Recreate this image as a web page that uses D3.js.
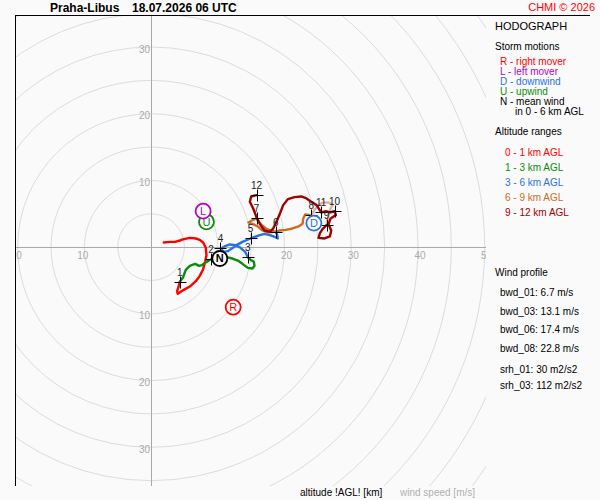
<!DOCTYPE html>
<html>
<head>
<meta charset="utf-8">
<title>Hodograph</title>
<script src="https://cdn.jsdelivr.net/npm/d3@7"></script>
<style>
  html, body { margin: 0; padding: 0; background: #fafafa; }
  svg { display: block; font-family: "Liberation Sans", Arial, sans-serif; }
</style>
</head>
<body>
<div id="chart"></div>
<script>
// Hodograph trace, [u, v] in m/s, one array per altitude range
var range0to1 = [[1.9, 0.7], [2.8, 0.8], [3.6, 0.8], [4.3, 1.0], [4.9, 1.2], [5.8, 1.4], [6.7, 1.3],
  [7.3, 1.1], [7.8, 0.7], [8.2, -0.1], [8.3, -1.2], [8.1, -2.2], [7.8, -3.3], [7.3, -4.3],
  [6.7, -5.1], [5.8, -5.9], [4.9, -6.4], [4.0, -7.0], [3.9, -6.6], [4.1, -6.0], [4.3, -5.2]];
var range1to3 = [[4.3, -5.2], [4.8, -4.5], [5.2, -3.4], [5.8, -2.8], [6.6, -2.5], [7.2, -2.8],
  [7.6, -2.7], [8.3, -2.2], [9.0, -1.8], [9.8, -1.5], [10.6, -1.3], [11.3, -1.5], [12.2, -1.7],
  [13.0, -2.0], [13.7, -2.5], [14.5, -3.1], [15.2, -3.2], [15.5, -2.8], [15.4, -2.2], [14.9, -1.9], [14.5, -1.5]];
var range3to6 = [[14.5, -1.5], [14.1, -0.7], [13.4, -0.1], [12.7, 0.3], [11.8, 0.4], [11.0, 0.1],
  [10.4, -0.2], [10.9, -0.7], [11.5, -0.6], [12.1, -0.2], [12.8, 0.3], [13.7, 0.8], [14.9, 1.3],
  [15.7, 1.6], [16.3, 1.8], [17.0, 2.0], [17.8, 1.8], [18.4, 1.6], [19.0, 1.3], [18.9, 1.8], [18.7, 2.3]];
var range6to9 = [[18.7, 2.3], [17.9, 2.5], [17.2, 2.8], [16.6, 3.3], [16.1, 3.8], [15.8, 4.3],
  [15.1, 4.0], [14.6, 3.7], [15.2, 3.5], [16.0, 3.1], [16.7, 2.5], [17.5, 2.2], [18.4, 2.3],
  [19.3, 2.5], [20.2, 2.6], [21.2, 2.8], [22.1, 3.1], [22.7, 3.5], [22.8, 4.3], [23.1, 4.9], [24.0, 4.8]];
var range8to9 = [[24.0, 4.8], [24.5, 5.6], [25.2, 6.4], [25.9, 6.7], [26.6, 6.7], [27.2, 6.4],
  [26.8, 5.5], [26.5, 4.5], [26.3, 3.3]];
var range9to12 = [[26.3, 3.3], [25.7, 2.7], [25.3, 2.1], [25.1, 1.4], [26.0, 1.3], [26.8, 1.6],
  [27.0, 2.5], [26.6, 3.4], [26.9, 4.3], [27.7, 4.8], [27.5, 5.4], [26.8, 5.2], [26.2, 5.4],
  [25.5, 5.2], [24.8, 6.3], [24.0, 6.8], [23.3, 7.3], [22.5, 7.6], [21.5, 7.5], [20.5, 7.2],
  [19.8, 6.3], [19.3, 5.0], [18.8, 3.8], [18.3, 2.8], [17.8, 2.3], [17.0, 2.5], [16.3, 3.5],
  [15.8, 4.5], [15.3, 5.8], [14.8, 6.8], [15.0, 7.6], [15.8, 7.8]];

// wind at 1, 2, ... 12 km AGL
var kmMarks = [[4.3, -5.2], [9.0, -1.8], [14.5, -1.5], [10.4, -0.2], [14.9, 1.3], [18.7, 2.3],
  [15.8, 4.3], [24.0, 4.8], [26.3, 3.3], [27.5, 5.4], [25.5, 5.2], [15.8, 7.8]];

// storm motion vectors [letter, u, v]
var stormMotions = [['U', 8.3, 3.8], ['L', 7.8, 5.4], ['R', 12.3, -9.0], ['D', 24.4, 3.6], ['N', 10.3, -1.7]];

var ringSpeeds = [5, 10, 15, 20, 25, 30, 35, 40, 45, 50, 55, 60, 65];
var xTickLabels = [-20, -10, 10, 20, 30, 40, 50];
var yTickLabels = [-30, -20, -10, 10, 20, 30];

var motionLegend = [['R - right mover', 'R'], ['L - left mover', 'L'], ['D - downwind', 'D'],
  ['U - upwind', 'U'], ['N - mean wind', 'N']];
var rangeLegend = ['0 - 1 km AGL', '1 - 3 km AGL', '3 - 6 km AGL', '6 - 9 km AGL', '9 - 12 km AGL'];
var windProfile = ['bwd_01: 6.7 m/s', 'bwd_03: 13.1 m/s', 'bwd_06: 17.4 m/s', 'bwd_08: 22.8 m/s'];
var helicity = ['srh_01: 30 m2/s2', 'srh_03: 112 m2/s2'];

// Colours
var col = {
  r1: '#ff0000', r3: '#0a8c0a', r6: '#2673e0', r9: '#d2691e', r9b: '#e8aaa4', r12: '#a00000',
  R: '#ff0000', L: '#b400c8', D: '#2673e0', U: '#0a8c0a', N: '#000000'
};

var W = 600, H = 500;
var box = { left: 15, top: 15, right: 486, bottom: 486 };

var x = d3.scaleLinear().domain([-20.4, 50.2]).range([box.left, box.right]);
var y = d3.scaleLinear().domain([-35.8, 34.8]).range([box.bottom, box.top]);

var svg = d3.select('#chart').append('svg')
  .attr('width', W).attr('height', H)
  .attr('viewBox', '0 0 ' + W + ' ' + H);

svg.append('rect').attr('width', W).attr('height', H).attr('fill', '#fafafa');

svg.append('clipPath').attr('id', 'plotClip').append('rect')
  .attr('x', box.left).attr('y', box.top)
  .attr('width', box.right - box.left).attr('height', box.bottom - box.top);

var grid = svg.append('g').attr('clip-path', 'url(#plotClip)');

grid.selectAll('circle.ring')
  .data(ringSpeeds)
  .join('circle')
  .attr('class', 'ring')
  .attr('cx', x(0)).attr('cy', y(0))
  .attr('r', function (d) { return x(d) - x(0); })
  .attr('fill', 'none')
  .attr('stroke', '#dcdcdc')
  .attr('stroke-width', 1);

grid.append('line')
  .attr('x1', box.left).attr('x2', box.right)
  .attr('y1', Math.round(y(0)) + 0.5).attr('y2', Math.round(y(0)) + 0.5)
  .attr('stroke', '#a8a8a8');
grid.append('line')
  .attr('x1', Math.round(x(0)) + 0.5).attr('x2', Math.round(x(0)) + 0.5)
  .attr('y1', box.top).attr('y2', box.bottom)
  .attr('stroke', '#a8a8a8');

grid.selectAll('text.xt')
  .data(xTickLabels)
  .join('text')
  .attr('class', 'xt')
  .attr('x', function (d) { return x(d) + (d > 0 ? 2 : -1.5); })
  .attr('y', y(0) + 12)
  .attr('text-anchor', 'middle')
  .attr('font-size', '10px')
  .attr('fill', '#aaaaaa')
  .text(function (d) { return Math.abs(d); });

grid.selectAll('text.yt')
  .data(yTickLabels)
  .join('text')
  .attr('class', 'yt')
  .attr('x', x(0) - 1)
  .attr('y', function (d) { return y(d) + 5.5; })
  .attr('text-anchor', 'end')
  .attr('font-size', '10px')
  .attr('fill', '#aaaaaa')
  .text(function (d) { return Math.abs(d); });

// Frame: top and left only
svg.append('line').attr('x1', box.left).attr('x2', 590).attr('y1', 15.5).attr('y2', 15.5)
  .attr('stroke', '#000');
svg.append('line').attr('x1', 15.5).attr('x2', 15.5).attr('y1', box.top).attr('y2', box.bottom)
  .attr('stroke', '#000');

// Traces
var line = d3.line()
  .x(function (d) { return x(d[0]); })
  .y(function (d) { return y(d[1]); });

var traces = [
  [range0to1, col.r1], [range1to3, col.r3], [range3to6, col.r6],
  [range6to9, col.r9], [range8to9, col.r9b], [range9to12, col.r12]
];

var traceG = svg.append('g').attr('clip-path', 'url(#plotClip)');
traceG.selectAll('path')
  .data(traces)
  .join('path')
  .attr('d', function (d) { return line(d[0]); })
  .attr('fill', 'none')
  .attr('stroke', function (d) { return d[1]; })
  .attr('stroke-width', 2.4)
  .attr('stroke-linejoin', 'round')
  .attr('stroke-linecap', 'round');

// Height crosses with km labels
var marks = svg.append('g');
marks.selectAll('path')
  .data(kmMarks)
  .join('path')
  .attr('d', function (d) {
    var cx = Math.round(x(d[0])) + 0.5, cy = Math.round(y(d[1])) + 0.5;
    return 'M' + (cx - 6) + ',' + cy + 'H' + (cx + 6) + 'M' + cx + ',' + (cy - 6) + 'V' + (cy + 6);
  })
  .attr('stroke', '#000')
  .attr('stroke-width', 1);

marks.selectAll('text')
  .data(kmMarks)
  .join('text')
  .attr('x', function (d) { return x(d[0]); })
  .attr('y', function (d) { return y(d[1]) - 6; })
  .attr('text-anchor', 'middle')
  .attr('font-size', '10px')
  .attr('fill', '#222')
  .text(function (d, i) { return i + 1; });

// Storm motion markers
var sm = svg.append('g').selectAll('g')
  .data(stormMotions)
  .join('g')
  .attr('transform', function (d) { return 'translate(' + x(d[1]) + ',' + y(d[2]) + ')'; });

sm.append('circle')
  .attr('r', 7.5)
  .attr('fill', '#fff')
  .attr('stroke', function (d) { return col[d[0]]; })
  .attr('stroke-width', 1.8);

sm.append('text')
  .attr('text-anchor', 'middle')
  .attr('dy', '0.36em')
  .attr('font-size', '11px')
  .attr('font-weight', function (d) { return d[0] === 'N' ? 'bold' : 'normal'; })
  .attr('fill', function (d) { return col[d[0]]; })
  .text(function (d) { return d[0]; });

// Header
svg.append('text').attr('x', 50).attr('y', 12)
  .attr('font-size', '12px').attr('font-weight', 'bold').text('Praha-Libus');
svg.append('text').attr('x', 132).attr('y', 12)
  .attr('font-size', '12px').attr('font-weight', 'bold').text('18.07.2026 06 UTC');
svg.append('text').attr('x', 595).attr('y', 11).attr('text-anchor', 'end')
  .attr('font-size', '11px').attr('fill', '#ff0000').text('CHMI \u00a9 2026');

// Right panel
var side = svg.append('g').attr('font-size', '10px');
side.append('text').attr('x', 495).attr('y', 30).attr('font-size', '11px').text('HODOGRAPH');
side.append('text').attr('x', 495).attr('y', 50).text('Storm motions');

side.selectAll('text.sm')
  .data(motionLegend)
  .join('text')
  .attr('class', 'sm')
  .attr('x', 500)
  .attr('y', function (d, i) { return 65 + i * 10; })
  .attr('fill', function (d) { return col[d[1]]; })
  .text(function (d) { return d[0]; });
side.append('text').attr('x', 515).attr('y', 115).text('in 0 - 6 km AGL');

side.append('text').attr('x', 495).attr('y', 135).text('Altitude ranges');
var rangeCols = [col.r1, col.r3, col.r6, col.r9, col.r12];
side.selectAll('text.rg')
  .data(rangeLegend)
  .join('text')
  .attr('class', 'rg')
  .attr('x', 505)
  .attr('y', function (d, i) { return 155.5 + i * 15; })
  .attr('fill', function (d, i) { return rangeCols[i]; })
  .text(function (d) { return d; });

side.append('text').attr('x', 495).attr('y', 276).text('Wind profile');
side.selectAll('text.wp')
  .data(windProfile)
  .join('text')
  .attr('class', 'wp')
  .attr('x', 500)
  .attr('y', function (d, i) { return 296 + i * 18.5; })
  .text(function (d) { return d; });
side.selectAll('text.srh')
  .data(helicity)
  .join('text')
  .attr('class', 'srh')
  .attr('x', 500)
  .attr('y', function (d, i) { return 372.5 + i * 16.5; })
  .text(function (d) { return d; });

// Footer
svg.append('text').attr('x', 300).attr('y', 496).attr('font-size', '10px').text('altitude !AGL! [km]');
svg.append('text').attr('x', 400).attr('y', 496).attr('font-size', '10px').attr('fill', '#b0b0b0')
  .text('wind speed [m/s]');
</script>
</body>
</html>
